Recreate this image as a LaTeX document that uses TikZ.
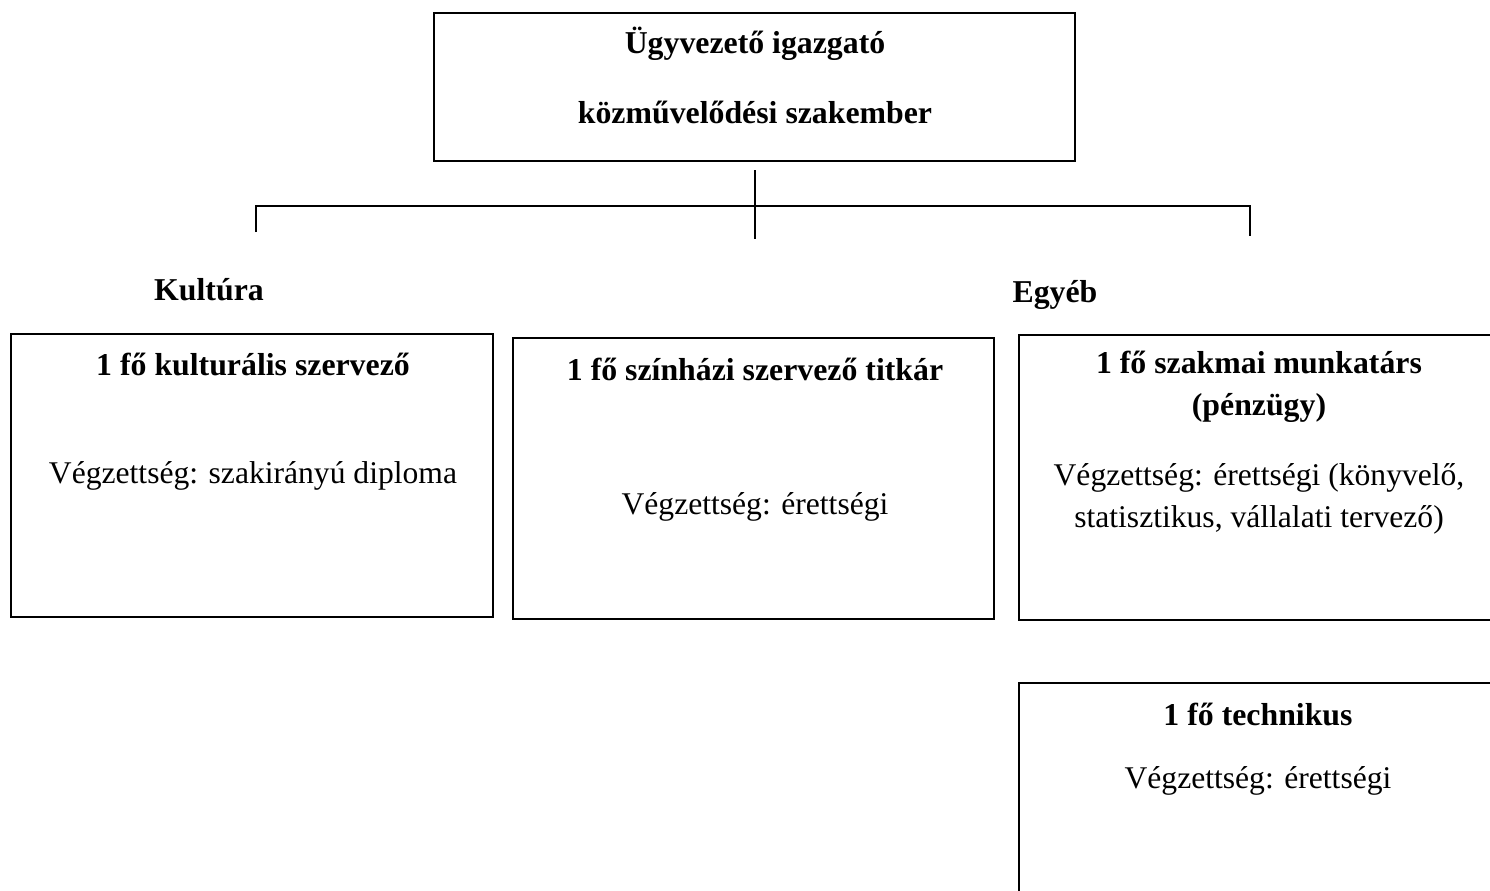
\documentclass[tikz,border=0pt]{standalone}
\usepackage{fontspec}
\setmainfont{Liberation Serif}
\begin{document}
\begin{tikzpicture}[x=0.5pt,y=-0.5pt,
  boxline/.style={draw=black,line width=1.1pt},
  conn/.style={draw=black,line width=0.8pt},
  ttl/.style={font=\fontsize{15.9}{19}\selectfont\bfseries,inner sep=0pt,align=center},
  body/.style={font=\fontsize{15.8}{21}\selectfont,inner sep=0pt,align=center},
  cat/.style={font=\fontsize{15.9}{19}\selectfont\bfseries,inner sep=0pt}]
\useasboundingbox (0,0) rectangle (1490,890);
\clip (0,0) rectangle (1490,890);
% boxes
\node[boxline,minimum width=320.5pt,minimum height=74pt,inner sep=0pt] (top) at (754.5,87) {};
\node[boxline,minimum width=241pt,minimum height=141.5pt,inner sep=0pt] (b1) at (252,475.5) {};
\node[boxline,minimum width=240.5pt,minimum height=140.5pt,inner sep=0pt] (b2) at (753.5,478.5) {};
\node[boxline,minimum width=245pt,minimum height=142.5pt,inner sep=0pt] (b3) at (1264,477.5) {};
\node[boxline,minimum width=245pt,minimum height=150pt,inner sep=0pt] (b4) at (1264,833) {};
% texts
\node[ttl] (t1) at (755,44) {Ügyvezető igazgató};
\node[ttl] (t2) at (755,112) {közművelődési szakember};
\node[cat] (kult) at (209,290) {Kultúra};
\node[cat,anchor=base] (egyeb) at (1055,302) {Egyéb};
\node[ttl] (b1t) at (253,364) {1 fő kulturális szervező};
\node[body] (b1b) at (253,476) {Végzettség: szakirányú diploma};
\node[ttl] (b2t) at (755,369) {1 fő színházi szervező titkár};
\node[body] (b2b) at (755,507) {Végzettség: érettségi};
\node[ttl] (b3t) at (1259,387) {1 fő szakmai munkatárs\\[2pt](pénzügy)};
\node[body] (b3b) at (1259,499) {Végzettség: érettségi (könyvelő,\\statisztikus, vállalati tervező)};
\node[ttl] (b4t) at (1258,714) {1 fő technikus};
\node[body] (b4b) at (1258,781) {Végzettség: érettségi};
% connectors
\coordinate (vs) at (755,170);
\coordinate (ve) at (755,239);
\coordinate (hl) at (256,206);
\coordinate (hr) at (1250,206);
\coordinate (dl) at (256,232);
\coordinate (dr) at (1250,236);
\draw[conn] (vs) -- (ve);
\draw[conn] (dl) -- (hl) -- (hr) -- (dr);
\end{tikzpicture}
\end{document}
